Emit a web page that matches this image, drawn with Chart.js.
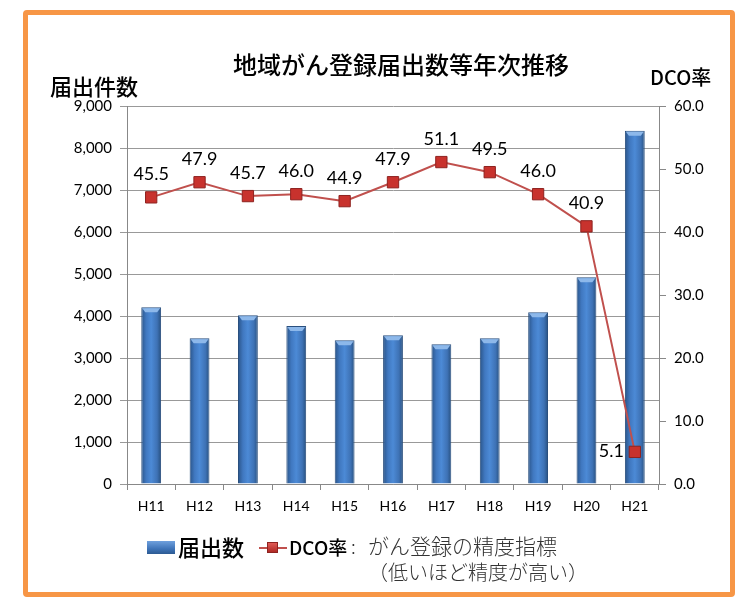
<!DOCTYPE html>
<html>
<head>
<meta charset="utf-8">
<script src="https://cdn.jsdelivr.net/npm/chart.js@4.4.1/dist/chart.umd.min.js"></script>
<style>
  body { margin: 0; background: #fff; }
  #wrap { position: relative; width: 749px; height: 598px; overflow: hidden; }
  #frame { position: absolute; left: 23px; top: 10px; width: 712px; height: 587px;
           box-sizing: border-box; border: 5px solid #F79646; border-radius: 4px; }
  .t { position: absolute; white-space: nowrap; color: #000;
       font-family: "Noto Sans CJK JP", "Noto Sans", sans-serif; line-height: 1; }
  #title { left: 0; width: 802px; text-align: center; top: 52px; font-size: 24px; font-weight: 500; }
  #yTitle { left: 50px; top: 74px; font-size: 22px; font-weight: 500; }
  #y2Title { left: 650px; top: 67px; font-size: 20px; font-weight: 500; }
  #lgBox { position: absolute; left: 147px; top: 541px; width: 28px; height: 13px;
           background: linear-gradient(to bottom, #6FA0DD, #3F74B8 60%, #2C5A92); }
  #lgLine { position: absolute; left: 259px; top: 547px; width: 28px; height: 2px; background: #C0504D; }
  #lgPt { position: absolute; left: 267px; top: 542px; width: 11px; height: 11px; box-sizing: border-box;
          background: linear-gradient(to bottom, #E05A55, #B02A25); border: 1px solid #8E2320; }
  #lg1 { left: 178px; top: 535px; font-size: 22px; font-weight: 500; }
  #lg2 { left: 289px; top: 537px; font-size: 19px; font-weight: 500; }
  #colon { left: 351px; top: 536px; font-size: 19px; color: #333; font-weight: 300; }
  #note1 { left: 368px; top: 535px; font-size: 21px; color: #333; font-weight: 300; }
  #note2 { left: 368px; top: 562px; font-size: 20px; color: #333; font-weight: 300; }
</style>
</head>
<body>
<div id="wrap">
  <canvas id="c" width="749" height="598"></canvas>
  <div id="frame"></div>
  <div class="t" id="title">地域がん登録届出数等年次推移</div>
  <div class="t" id="yTitle">届出件数</div>
  <div class="t" id="y2Title">DCO率</div>
  <div id="lgBox"></div>
  <div class="t" id="lg1">届出数</div>
  <div id="lgLine"></div><div id="lgPt"></div>
  <div class="t" id="lg2">DCO率</div>
  <div class="t" id="colon">:</div>
  <div class="t" id="note1">がん登録の精度指標</div>
  <div class="t" id="note2">（低いほど精度が高い）</div>
</div>
<script>
const years = ['H11', 'H12', 'H13', 'H14', 'H15', 'H16', 'H17', 'H18', 'H19', 'H20', 'H21'];
const reports = [4210, 3470, 4020, 3760, 3420, 3540, 3330, 3470, 4090, 4920, 8410];
const dcoRate = [45.5, 47.9, 45.7, 46.0, 44.9, 47.9, 51.1, 49.5, 46.0, 40.9, 5.1];

const BAR_PCT = 0.41;

function barGradient(context) {
    const chart = context.chart;
    const x = chart.scales.x;
    if (!chart.chartArea || !x) return '#4F81BD';
    const cx = x.getPixelForValue(context.dataIndex);
    const w = (chart.chartArea.width / years.length) * BAR_PCT;
    const g = chart.ctx.createLinearGradient(cx - w / 2, 0, cx + w / 2, 0);
    g.addColorStop(0, '#2A5488');
    g.addColorStop(0.25, '#4078C0');
    g.addColorStop(0.5, '#4C8AD6');
    g.addColorStop(0.8, '#3E72B5');
    g.addColorStop(1, '#27507F');
    return g;
}

// light cap on top of each bar
const barCaps = {
    id: 'barCaps',
    afterDatasetDraw(chart, args) {
        if (args.index !== 1) return;
        const ctx = chart.ctx;
        args.meta.data.forEach(bar => {
            const w = bar.width, x0 = bar.x - w / 2, y0 = bar.y;
            ctx.save();
            ctx.fillStyle = '#8DB8EA';
            ctx.beginPath();
            ctx.moveTo(x0 + 1, y0 + 1);
            ctx.lineTo(x0 + w - 1, y0 + 1);
            ctx.lineTo(x0 + w - 4, y0 + 5);
            ctx.lineTo(x0 + 4, y0 + 5);
            ctx.closePath();
            ctx.fill();
            ctx.restore();
        });
    }
};

// value labels for DCO rate
const rateLabels = {
    id: 'rateLabels',
    afterDatasetsDraw(chart) {
        const ctx = chart.ctx;
        const meta = chart.getDatasetMeta(0);
        ctx.save();
        ctx.font = '18px Lato, "Liberation Sans", sans-serif';
        ctx.fillStyle = '#000';
        ctx.textBaseline = 'middle';
        meta.data.forEach((pt, i) => {
            const txt = dcoRate[i].toFixed(1);
            if (dcoRate[i] < 10) {
                ctx.textAlign = 'right';
                ctx.fillText(txt, pt.x - 11, pt.y - 1);
            } else {
                ctx.textAlign = 'center';
                ctx.fillText(txt, pt.x, pt.y - 23);
            }
        });
        ctx.restore();
    }
};

const tickFont = { family: 'Lato, "Liberation Sans", sans-serif', size: 15 };

new Chart(document.getElementById('c'), {
    data: {
        labels: years,
        datasets: [{
            type: 'line',
            label: 'DCO率',
            data: dcoRate,
            yAxisID: 'y2',
            order: 0,
            borderColor: '#C0504D',
            borderWidth: 2,
            tension: 0,
            pointStyle: 'rect',
            pointRadius: 8,
            pointBackgroundColor: '#C8322D',
            pointBorderColor: '#8E2320',
            pointBorderWidth: 1
        }, {
            type: 'bar',
            label: '届出数',
            data: reports,
            yAxisID: 'y',
            order: 1,
            backgroundColor: barGradient,
            borderColor: '#2A4F7E',
            borderWidth: 1,
            barPercentage: BAR_PCT,
            categoryPercentage: 1
        }]
    },
    options: {
        responsive: false,
        animation: false,
        layout: { padding: { top: 106, left: 0, right: 0, bottom: 0 } },
        plugins: { legend: { display: false }, tooltip: { enabled: false } },
        scales: {
            x: {
                afterFit: s => { s.height = 114; },
                grid: { drawOnChartArea: false, drawTicks: true, tickLength: 6, color: '#888', offset: true },
                border: { color: '#888' },
                ticks: { color: '#000', font: { ...tickFont, size: 14 }, padding: 8 }
            },
            y: {
                position: 'left',
                min: 0,
                max: 9000,
                afterFit: s => { s.width = 127; },
                ticks: {
                    stepSize: 1000,
                    color: '#000',
                    font: tickFont,
                    padding: 8,
                    callback: v => v.toLocaleString('en-US')
                },
                grid: { color: '#999', tickLength: 7 },
                border: { color: '#888' }
            },
            y2: {
                position: 'right',
                min: 0,
                max: 60,
                afterFit: s => { s.width = 90; },
                ticks: {
                    stepSize: 10,
                    color: '#000',
                    font: tickFont,
                    padding: 8,
                    callback: v => v.toFixed(1)
                },
                grid: { drawOnChartArea: false, color: '#888', tickLength: 7 },
                border: { color: '#888' }
            }
        }
    },
    plugins: [barCaps, rateLabels]
});
</script>
</body>
</html>
